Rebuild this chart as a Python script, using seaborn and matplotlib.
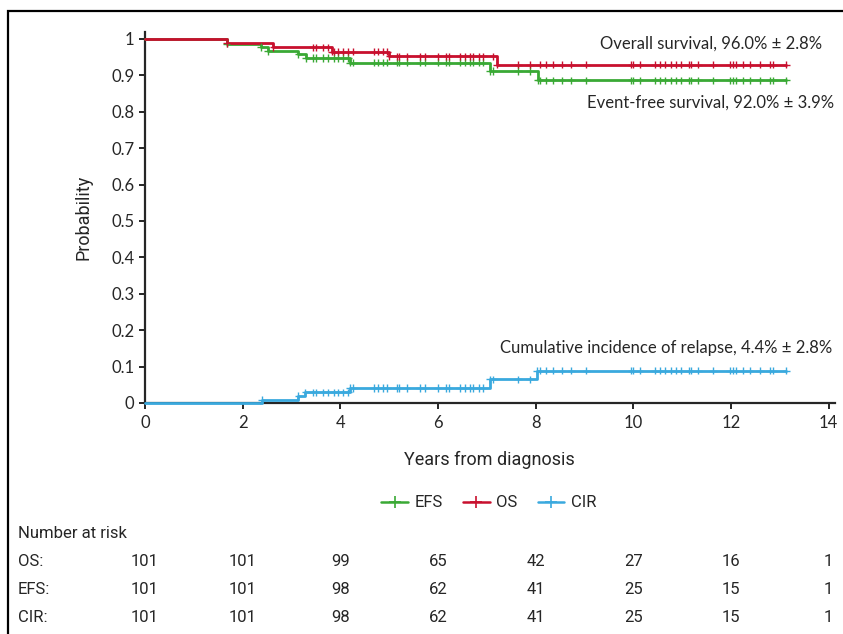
import numpy as np
import pandas as pd
import seaborn as sns
import matplotlib.pyplot as plt
from matplotlib.lines import Line2D
from matplotlib.patches import Rectangle
from matplotlib.transforms import blended_transform_factory

# Кривые: моменты событий и значения (ступенчатые)
os_t = [0, 1.67, 2.63, 3.83, 5.00, 7.20, 13.13]
os_v = [1.0, 0.988, 0.977, 0.965, 0.952, 0.929, 0.929]
efs_t = [0, 1.67, 2.37, 2.52, 3.14, 3.29, 4.20, 7.06, 8.05, 13.13]
efs_v = [1.0, 0.987, 0.978, 0.967, 0.958, 0.948, 0.935, 0.912, 0.886, 0.886]
cir_t = [0, 2.39, 3.14, 3.28, 4.20, 7.06, 8.03, 13.13]
cir_v = [0.0, 0.009, 0.019, 0.029, 0.041, 0.065, 0.089, 0.089]

# Цензурированные наблюдения (годы)
censor_t = [3.43, 3.50, 3.65, 3.75, 3.87, 3.96, 4.06, 4.16, 4.26, 4.69, 4.78,
            4.88, 4.96, 5.15, 5.21, 5.36, 5.63, 5.73, 6.00, 6.17, 6.22, 6.45,
            6.55, 6.65, 6.72, 6.84, 6.92, 7.13, 7.64, 7.88, 8.08, 8.22, 8.36,
            8.53, 8.73, 9.04, 9.96, 9.99, 10.13, 10.44, 10.54, 10.64, 10.78,
            10.88, 10.98, 11.14, 11.17, 11.32, 11.63, 11.97, 12.04, 12.11,
            12.25, 12.38, 12.59, 12.79, 12.86, 13.13]

# Число пациентов под риском
risk_years = [0, 2, 4, 6, 8, 10, 12, 14]
risk_os = [101, 101, 99, 65, 42, 27, 16, 1]
risk_efs = [101, 101, 98, 62, 41, 25, 15, 1]
risk_cir = [101, 101, 98, 62, 41, 25, 15, 1]

labels = {
    "OS": "Overall survival, 96.0% ± 2.8%",
    "EFS": "Event-free survival, 92.0% ± 3.9%",
    "CIR": "Cumulative incidence of relapse, 4.4% ± 2.8%",
}
colors = {"EFS": "#3aa935", "OS": "#c8102e", "CIR": "#3aa9de"}
order = ["CIR", "EFS", "OS"]  # OS рисуем поверх

curves = {"EFS": (efs_t, efs_v), "OS": (os_t, os_v), "CIR": (cir_t, cir_v)}

rows = []
marks = []
for name, (t, v) in curves.items():
    for ti, vi in zip(t, v):
        rows.append((name, ti, vi))
    t_arr = np.array(t)
    pts = sorted(set(t[1:]) | set(censor_t))
    for c in pts:
        idx = np.searchsorted(t_arr, c, side="right") - 1
        marks.append((name, c, v[idx]))
df = pd.DataFrame(rows, columns=["curve", "years", "prob"])
df_marks = pd.DataFrame(marks, columns=["curve", "years", "prob"])

sns.set_style("ticks")
plt.rcParams["font.family"] = ["Lato", "DejaVu Sans"]
narrow = ["Roboto", "DejaVu Sans"]

fig = plt.figure(figsize=(8.43, 6.34), dpi=100)
ax = fig.add_axes([0.172, 0.3644, 0.818, 0.5851])

sns.lineplot(data=df, x="years", y="prob", hue="curve", hue_order=order,
             palette=colors, drawstyle="steps-post", linewidth=2.0,
             legend=False, ax=ax, zorder=3, clip_on=False)
sns.scatterplot(data=df_marks, x="years", y="prob", hue="curve", hue_order=order,
                palette=colors, marker="+", s=28, linewidth=1.0, legend=False,
                ax=ax, zorder=4, clip_on=False)

ax.set_xlim(0, 14.12)
ax.set_ylim(0, 1.019)
ax.set_xticks(range(0, 15, 2))
ax.set_yticks(np.arange(0, 1.01, 0.1))
ax.set_yticklabels(["0"] + [f"{v:.1f}" for v in np.arange(0.1, 0.95, 0.1)] + ["1"])
ax.tick_params(labelsize=12, length=4, width=1.2, color="black")
ax.tick_params(axis="x", pad=5)
for s in ["top", "right"]:
    ax.spines[s].set_visible(False)
for s in ["left", "bottom"]:
    ax.spines[s].set_linewidth(1.6)
ax.set_xlabel("Years from diagnosis", fontsize=13, family=narrow, labelpad=14)
ax.set_ylabel("Probability", fontsize=13, family=narrow, labelpad=14)

ax.text(13.86, 0.986, labels["OS"], ha="right", va="center", fontsize=12)
ax.text(14.12, 0.825, labels["EFS"], ha="right", va="center", fontsize=12)
ax.text(14.08, 0.151, labels["CIR"], ha="right", va="center", fontsize=12)

handles = [Line2D([], [], color=colors[k], marker="+", markersize=9,
                  linewidth=1.8, markeredgewidth=1.2) for k in ["EFS", "OS", "CIR"]]
fig.legend(handles, ["EFS", "OS", "CIR"], loc="center", ncol=3,
           bbox_to_anchor=(0.58, 1 - 503 / 634), frameon=False,
           prop={"family": narrow, "size": 12}, handlelength=1.6,
           handletextpad=0.4, columnspacing=1.2)

# Таблица "Number at risk"
tr = blended_transform_factory(ax.transData, fig.transFigure)
fig.text(18 / 843, 1 - 533 / 634, "Number at risk", ha="left", va="center",
         fontsize=12, family=narrow)
for lab, vals, ypx in [("OS:", risk_os, 562), ("EFS:", risk_efs, 590),
                       ("CIR:", risk_cir, 618)]:
    y = 1 - ypx / 634
    fig.text(18 / 843, y, lab, ha="left", va="center", fontsize=12, family=narrow)
    for xv, n in zip(risk_years, vals):
        ax.text(xv, y, str(n), transform=tr, ha="center", va="center",
                fontsize=12, family=narrow, clip_on=False)

# Рамка вокруг рисунка
fig.patches.append(Rectangle((8 / 843, -0.1), 1.2, 1 - 11 / 634 + 0.1,
                             transform=fig.transFigure, fill=False,
                             edgecolor="black", linewidth=1.6))

fig.savefig("out.png", dpi=100)
